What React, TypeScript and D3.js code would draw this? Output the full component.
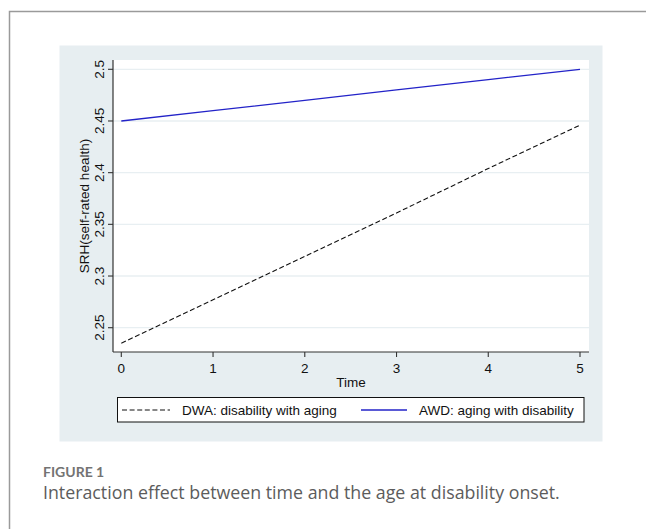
import { useMemo } from "react";
import * as d3 from "d3";

// data
const timePoints = [0, 1, 2, 3, 4, 5];
const dwaValues = [2.235, 2.277, 2.319, 2.361, 2.404, 2.446];
const awdValues = [2.45, 2.46, 2.47, 2.48, 2.49, 2.5];
const yTickValues = [2.25, 2.3, 2.35, 2.4, 2.45, 2.5];
const yTickLabels = ["2.25", "2.3", "2.35", "2.4", "2.45", "2.5"];
const xTickValues = [0, 1, 2, 3, 4, 5];
const seriesNames = ["DWA: disability with aging", "AWD: aging with disability"];

const W = 646;
const H = 529;
const FONT = "'Liberation Sans', Arial, sans-serif";
const FS = 13.5;
const BLUE = "#2323c8";
const INK = "#111";

export default function App() {
    // plot region (white area)
    const plot = { left: 113, right: 589, top: 60, bottom: 352 };

    const xScale = useMemo(() => d3.scaleLinear().domain([0, 5]).range([121.3, 580]), []);
    const yScale = useMemo(() => d3.scaleLinear().domain([2.25, 2.5]).range([327.7, 69.3]), []);

    const line = useMemo(
        () => d3.line<number>().x((_, i) => xScale(timePoints[i])).y((d) => yScale(d)),
        [xScale, yScale]
    );
    const dwaPath = line(dwaValues) ?? "";
    const awdPath = line(awdValues) ?? "";

    const legY = 410;

    return (
        <div style={{ position: "fixed", left: 0, top: 0 }}>
            <svg width={W} height={H} viewBox={`0 0 ${W} ${H}`} style={{ display: "block", background: "#fff" }}>
                {/* outer frame */}
                <path d={`M9.5,${H} V11.5 H${W}`} fill="none" stroke="#9a9a9a" strokeWidth={1.5} />

                {/* graph region */}
                <rect x={59.5} y={45.5} width={543} height={396} fill="#e7eef1" />
                <rect x={plot.left} y={plot.top} width={plot.right - plot.left} height={plot.bottom - plot.top} fill="#fff" />

                {/* grid */}
                <g>
                    {yTickValues.map((v, i) => (
                        <line key={`g-${i}`} x1={plot.left} x2={plot.right} y1={yScale(v)} y2={yScale(v)} stroke="#e8eff2" strokeWidth={1.3} />
                    ))}
                </g>

                {/* lines */}
                <path d={dwaPath} fill="none" stroke={INK} strokeWidth={1.1} strokeDasharray="5,2.6" />
                <path d={awdPath} fill="none" stroke={BLUE} strokeWidth={1.3} />

                {/* axes */}
                <line x1={plot.left} x2={plot.left} y1={plot.top} y2={plot.bottom} stroke="#333" strokeWidth={1.2} />
                <line x1={plot.left} x2={plot.right} y1={plot.bottom} y2={plot.bottom} stroke="#333" strokeWidth={1.2} />

                {/* x ticks */}
                <g>
                    {xTickValues.map((v, i) => (
                        <g key={`xt-${i}`} transform={`translate(${xScale(v)},${plot.bottom})`}>
                            <line y1={0} y2={5} stroke="#333" strokeWidth={1.1} />
                            <text y={21} textAnchor="middle" fontSize={FS} fontFamily={FONT} fill={INK}>{v}</text>
                        </g>
                    ))}
                </g>

                {/* y ticks, rotated labels */}
                <g>
                    {yTickValues.map((v, i) => (
                        <g key={`yt-${i}`} transform={`translate(${plot.left},${yScale(v)})`}>
                            <line x1={0} x2={-5} stroke="#333" strokeWidth={1.1} />
                            <text transform="translate(-9,0) rotate(-90)" textAnchor="middle" fontSize={FS} fontFamily={FONT} fill={INK}>
                                {yTickLabels[i]}
                            </text>
                        </g>
                    ))}
                </g>

                {/* axis titles */}
                <text x={351} y={387} textAnchor="middle" fontSize={FS} fontFamily={FONT} fill={INK}>Time</text>
                <text transform={`translate(88.5,${(plot.top + plot.bottom) / 2}) rotate(-90)`} textAnchor="middle" fontSize={FS} fontFamily={FONT} fill={INK}>
                    SRH(self-rated health)
                </text>

                {/* legend */}
                <rect x={117.5} y={397.5} width={466.5} height={24.5} fill="#fff" stroke={INK} strokeWidth={1} />
                <line x1={122} x2={170} y1={legY} y2={legY} stroke={INK} strokeWidth={1.1} strokeDasharray="5,2.6" />
                <text x={182} y={legY + 4.8} fontSize={FS} fontFamily={FONT} fill={INK}>{seriesNames[0]}</text>
                <line x1={361} x2={407} y1={legY} y2={legY} stroke={BLUE} strokeWidth={1.3} />
                <text x={419} y={legY + 4.8} fontSize={FS} fontFamily={FONT} fill={INK}>{seriesNames[1]}</text>

                {/* caption */}
                <text x={43} y={477} fontSize={14} fontWeight={700} fontFamily="Lato, 'Open Sans', sans-serif" fill="#737373">FIGURE 1</text>
                <text x={43} y={499} fontSize={17.8} fontFamily="'Open Sans', Lato, sans-serif" fill="#5c5c5c">
                    Interaction effect between time and the age at disability onset.
                </text>
            </svg>
        </div>
    );
}
